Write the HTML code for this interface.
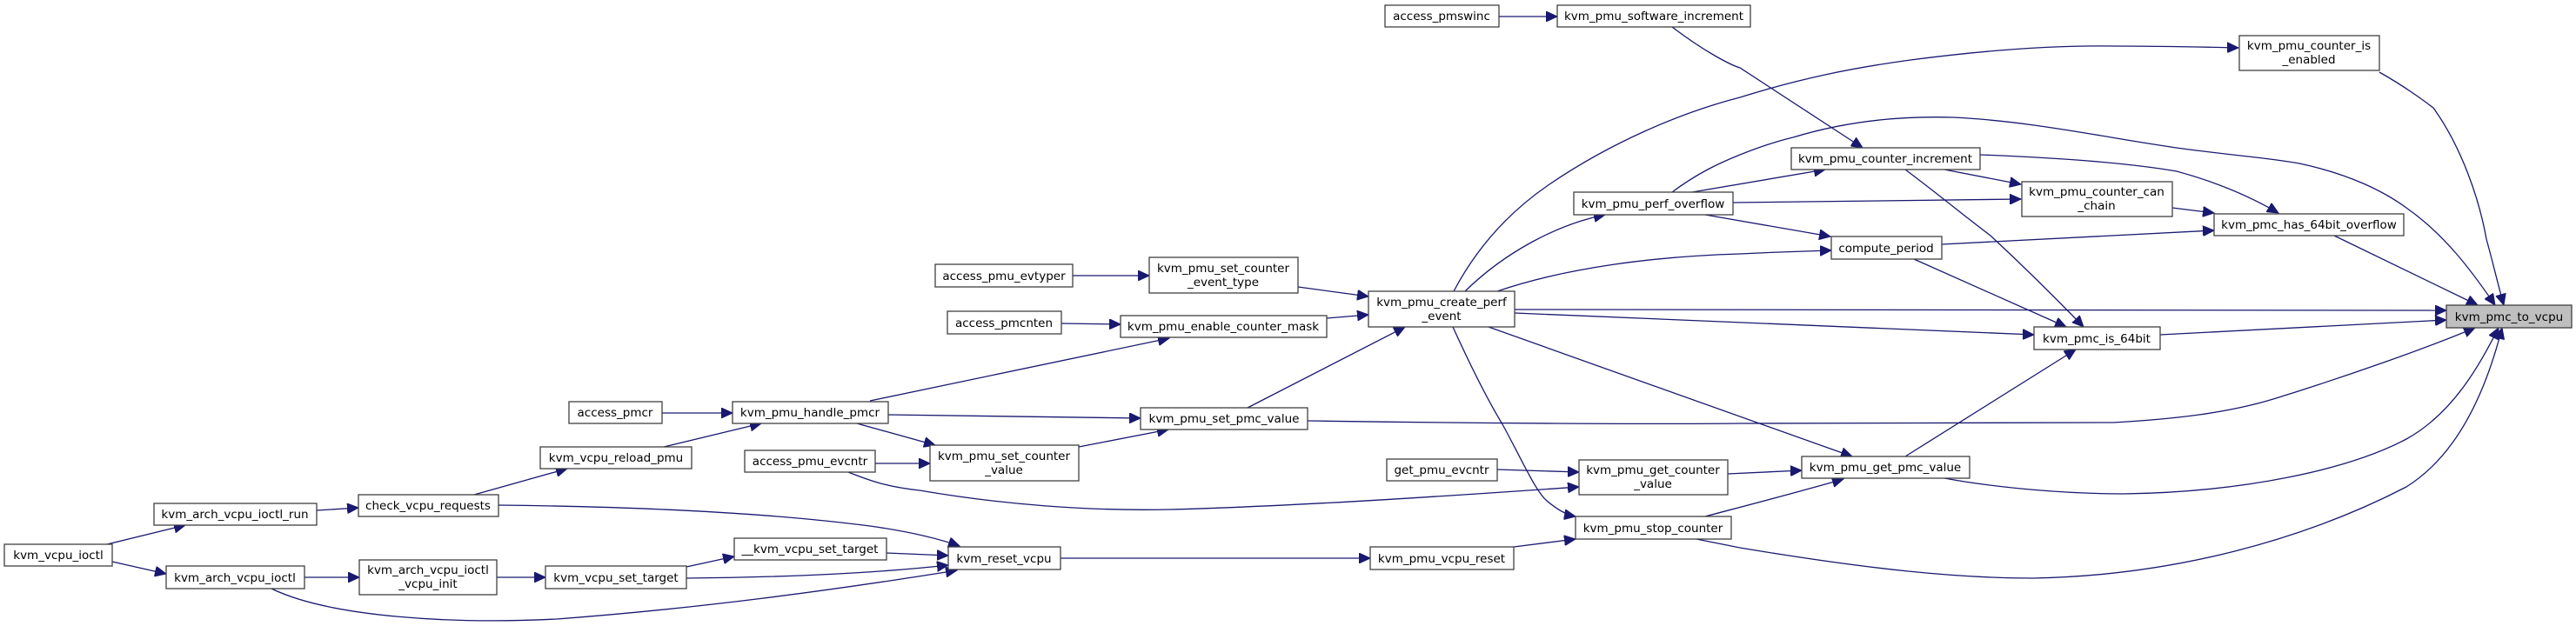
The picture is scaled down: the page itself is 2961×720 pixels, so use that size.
<!DOCTYPE html>
<html><head><meta charset="utf-8"><style>
html,body{margin:0;padding:0;background:#fff;}
svg{display:block;}
text{font-family:"DejaVu Sans","Liberation Sans",sans-serif;font-size:13.5px;fill:#000;text-anchor:middle;}
rect{fill:#fff;stroke:#404040;stroke-width:1.3;}
path{fill:none;stroke:#191970;stroke-width:1.3;}
</style></head><body>
<svg width="2961" height="720" viewBox="0 0 2961 720" xmlns="http://www.w3.org/2000/svg">
<defs><marker id="a" markerUnits="userSpaceOnUse" markerWidth="14" markerHeight="12" refX="13" refY="6" orient="auto"><path d="M0,0 L13,6 L0,12 Z" style="fill:#191970;stroke:#191970;stroke-width:1"/></marker></defs>
<g marker-end="url(#a)">
<path d="M123,626 L213,604"/>
<path d="M129,646 L191,660"/>
<path d="M364,587 L412,584"/>
<path d="M545,569 L652,539"/>
<path d="M763,514 L875,487"/>
<path d="M761,475 L842,475"/>
<path d="M350,664 L413,664"/>
<path d="M571,664 L627,664"/>
<path d="M789,652 L844,640"/>
<path d="M573,581 C760,583 900,592 1000,605 C1050,612 1080,620 1103,628"/>
<path d="M1019,636 L1090,639"/>
<path d="M789,665 C900,664 1000,660 1090,650"/>
<path d="M312,677 C380,710 520,718 640,712 C800,700 950,680 1100,656"/>
<path d="M1219,642 L1575,642"/>
<path d="M1740,629 L1811,620"/>
<path d="M1233,317 L1321,317"/>
<path d="M1492,330 L1573,341"/>
<path d="M1220,372 L1288,373"/>
<path d="M1525,366 L1573,362"/>
<path d="M1000,461 L1344,389"/>
<path d="M1021,477 L1311,481"/>
<path d="M985,487 L1075,512"/>
<path d="M1006,533 L1069,533"/>
<path d="M975,543 C1000,553 1020,560 1057,564 C1150,580 1250,588 1344,586 C1500,582 1700,568 1815,560"/>
<path d="M1240,514 L1343,494"/>
<path d="M1434,469 L1615,376"/>
<path d="M1503,484 C1700,487 1900,488 2000,487 C2200,487 2400,487 2429,486 C2500,482 2560,475 2613,459 C2700,432 2790,400 2845,377"/>
<path d="M1721,540 L1815,543"/>
<path d="M1986,545 L2071,541"/>
<path d="M1960,594 C1990,586 2060,568 2119,551"/>
<path d="M1950,620 C1980,626 2000,630 2000,630 C2150,655 2250,665 2337,665 C2500,662 2650,620 2766,560 C2830,520 2860,440 2876,377"/>
<path d="M2190,525 L2386,402"/>
<path d="M2235,550 C2300,562 2380,568 2441,568 C2580,566 2700,540 2766,505 C2820,475 2850,420 2872,377"/>
<path d="M1671,335 C1700,280 1740,240 1781,212 C1850,165 1930,130 2000,112 C2070,90 2130,78 2196,69 C2280,58 2360,52 2429,53 C2480,53 2530,54 2573,55"/>
<path d="M1684,335 C1730,290 1790,258 1845,247"/>
<path d="M1721,335 C1800,308 1900,295 2000,292 C2040,290 2070,289 2105,288"/>
<path d="M1741,356 L2812,357"/>
<path d="M1741,360 C2000,371 2200,380 2338,385"/>
<path d="M1670,376 C1690,420 1710,460 1727,488 C1750,530 1765,565 1778,576 C1790,586 1800,592 1811,594"/>
<path d="M1711,376 L2129,525"/>
<path d="M1945,221 L2098,195"/>
<path d="M1992,233 L2323,229"/>
<path d="M1960,247 L2104,272"/>
<path d="M1922,221 C1950,200 1975,188 2000,178 C2020,170 2040,163 2061,158 C2120,140 2180,133 2245,135 C2350,140 2450,165 2533,174 C2580,180 2610,182 2643,188 C2700,200 2740,220 2766,239 C2810,270 2840,310 2868,351"/>
<path d="M1922,31 C1960,60 1990,75 2000,78 L2141,170"/>
<path d="M1723,19 L1790,19"/>
<path d="M2235,195 L2323,212"/>
<path d="M2276,178 C2380,182 2450,188 2502,197 C2550,210 2590,228 2619,245"/>
<path d="M2190,195 C2230,225 2260,250 2288,271 C2330,310 2365,345 2395,376"/>
<path d="M2497,239 L2545,245"/>
<path d="M2232,281 L2545,265"/>
<path d="M2200,298 L2375,376"/>
<path d="M2683,271 L2848,351"/>
<path d="M2735,83 C2765,100 2785,115 2797,124 C2830,170 2850,230 2858,275 C2865,300 2872,330 2878,351"/>
<path d="M2483,385 L2812,368"/>
</g>
<g>
<rect x="5" y="626" width="124" height="25"/><text x="67" y="643">kvm_vcpu_ioctl</text>
<rect x="177" y="579" width="187" height="25"/><text x="270" y="596">kvm_arch_vcpu_ioctl_run</text>
<rect x="191" y="651" width="159" height="26"/><text x="270" y="669">kvm_arch_vcpu_ioctl</text>
<rect x="412" y="569" width="161" height="25"/><text x="492" y="586">check_vcpu_requests</text>
<rect x="413" y="644" width="158" height="40"/><text x="492" y="660">kvm_arch_vcpu_ioctl</text><text x="492" y="676">_vcpu_init</text>
<rect x="627" y="651" width="162" height="26"/><text x="708" y="669">kvm_vcpu_set_target</text>
<rect x="844" y="619" width="175" height="25"/><text x="931" y="636">__kvm_vcpu_set_target</text>
<rect x="621" y="514" width="174" height="25"/><text x="708" y="531">kvm_vcpu_reload_pmu</text>
<rect x="654" y="462" width="107" height="25"/><text x="707" y="479">access_pmcr</text>
<rect x="842" y="462" width="179" height="25"/><text x="931" y="479">kvm_pmu_handle_pmcr</text>
<rect x="856" y="518" width="150" height="25"/><text x="931" y="535">access_pmu_evcntr</text>
<rect x="1592" y="6" width="131" height="25"/><text x="1657" y="23">access_pmswinc</text>
<rect x="1790" y="6" width="222" height="25"/><text x="1901" y="23">kvm_pmu_software_increment</text>
<rect x="1075" y="304" width="158" height="26"/><text x="1154" y="322">access_pmu_evtyper</text>
<rect x="1321" y="296" width="171" height="41"/><text x="1406" y="313">kvm_pmu_set_counter</text><text x="1406" y="329">_event_type</text>
<rect x="1089" y="358" width="131" height="26"/><text x="1154" y="376">access_pmcnten</text>
<rect x="1288" y="363" width="237" height="25"/><text x="1406" y="380">kvm_pmu_enable_counter_mask</text>
<rect x="1573" y="335" width="168" height="41"/><text x="1657" y="352">kvm_pmu_create_perf</text><text x="1657" y="368">_event</text>
<rect x="1809" y="221" width="183" height="26"/><text x="1900" y="239">kvm_pmu_perf_overflow</text>
<rect x="1311" y="469" width="192" height="25"/><text x="1407" y="486">kvm_pmu_set_pmc_value</text>
<rect x="1069" y="512" width="171" height="41"/><text x="1154" y="529">kvm_pmu_set_counter</text><text x="1154" y="545">_value</text>
<rect x="1594" y="528" width="127" height="25"/><text x="1657" y="545">get_pmu_evcntr</text>
<rect x="1815" y="529" width="171" height="40"/><text x="1900" y="545">kvm_pmu_get_counter</text><text x="1900" y="561">_value</text>
<rect x="1811" y="594" width="179" height="26"/><text x="1900" y="612">kvm_pmu_stop_counter</text>
<rect x="1090" y="629" width="129" height="26"/><text x="1154" y="647">kvm_reset_vcpu</text>
<rect x="1575" y="629" width="165" height="26"/><text x="1657" y="647">kvm_pmu_vcpu_reset</text>
<rect x="2574" y="41" width="161" height="40"/><text x="2654" y="57">kvm_pmu_counter_is</text><text x="2654" y="73">_enabled</text>
<rect x="2059" y="170" width="217" height="25"/><text x="2167" y="187">kvm_pmu_counter_increment</text>
<rect x="2324" y="209" width="173" height="40"/><text x="2410" y="225">kvm_pmu_counter_can</text><text x="2410" y="241">_chain</text>
<rect x="2545" y="246" width="218" height="25"/><text x="2654" y="263">kvm_pmc_has_64bit_overflow</text>
<rect x="2105" y="272" width="127" height="26"/><text x="2168" y="290">compute_period</text>
<rect x="2338" y="376" width="145" height="26"/><text x="2410" y="394">kvm_pmc_is_64bit</text>
<rect x="2071" y="525" width="193" height="25"/><text x="2167" y="542">kvm_pmu_get_pmc_value</text>
<rect x="2812" y="351" width="144" height="26" style="fill:#bfbfbf"/><text x="2884" y="369">kvm_pmc_to_vcpu</text>
</g>
</svg>
</body></html>
